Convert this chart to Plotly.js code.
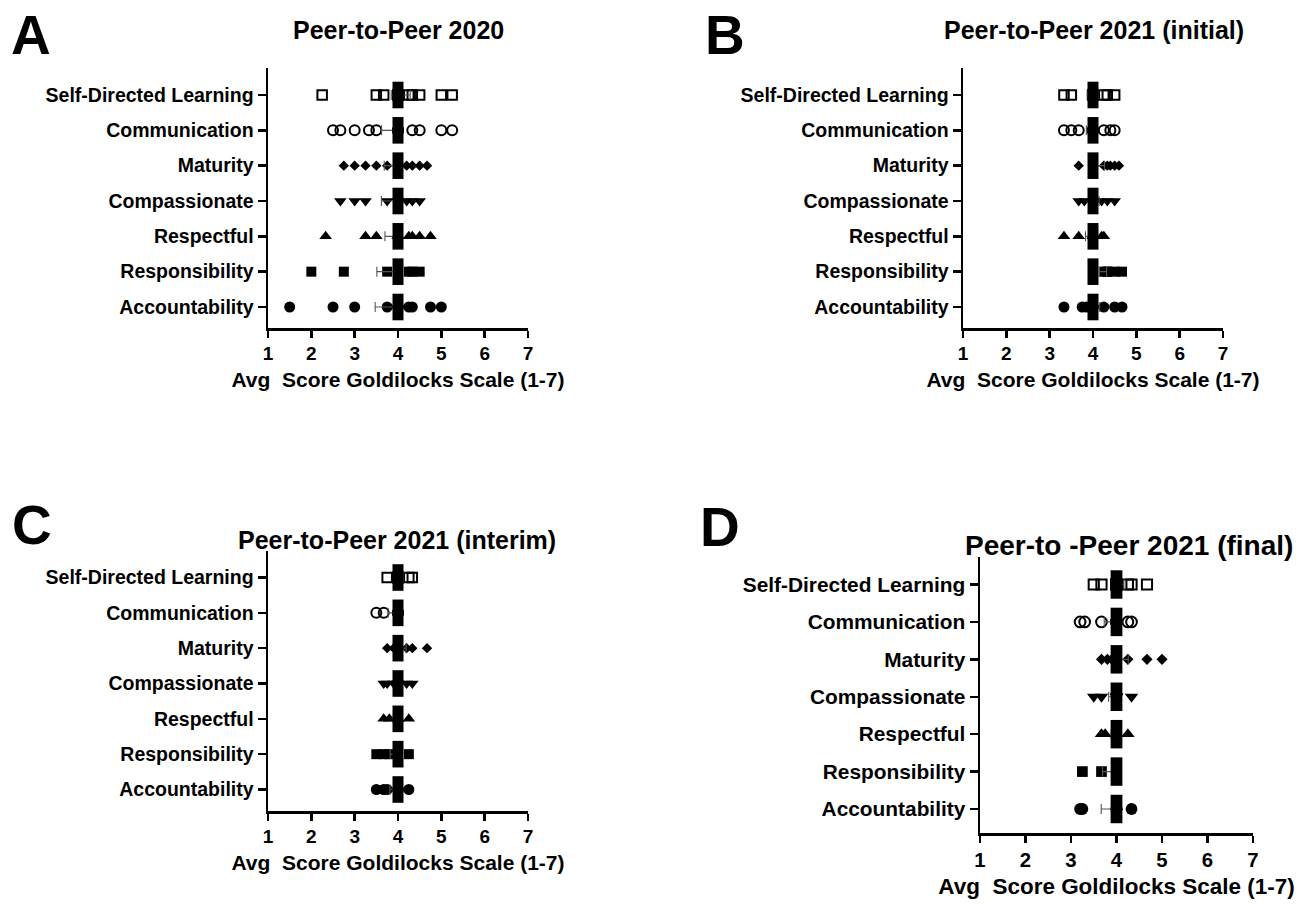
<!DOCTYPE html>
<html>
<head>
<meta charset="utf-8">
<script src="https://cdn.plot.ly/plotly-3.0.1.min.js"></script>
<style>
html,body{margin:0;padding:0;background:#fff;}
#chart{width:1306px;height:904px;}
</style>
</head>
<body>
<div id="chart"></div>
<script>
// ---------------- DATA ----------------
// categories, bottom to top
const categories = ['Accountability','Responsibility','Respectful','Compassionate','Maturity','Communication','Self-Directed Learning'];
const xTickValues = [1,2,3,4,5,6,7];
const panelTitles = ['Peer-to-Peer 2020','Peer-to-Peer 2021 (initial)','Peer-to-Peer 2021 (interim)','Peer-to -Peer 2021 (final)'];
const panelLetters = ['A','B','C','D'];
const xAxisTitle = 'Avg\u00a0 Score Goldilocks Scale (1-7)';

// rows follow the order of `categories`
const scores2020 = [
  [1.5, 2.5, 3.0, 3.75, 4, 4, 4, 4, 4.25, 4.33, 4.75, 5.0],
  [2.0, 2.75, 3.75, 4, 4, 4, 4, 4.25, 4.33, 4.5],
  [2.33, 3.25, 3.5, 4, 4, 4, 4, 4.25, 4.33, 4.5, 4.75],
  [2.67, 3.0, 3.25, 3.75, 4, 4, 4, 4, 4.2, 4.33, 4.5],
  [2.75, 3.0, 3.25, 3.5, 3.75, 4, 4, 4, 4, 4.2, 4.33, 4.5, 4.67],
  [2.5, 2.67, 3.0, 3.33, 3.5, 4, 4, 4, 4, 4.33, 4.5, 5.0, 5.25],
  [2.25, 3.5, 3.67, 4, 4, 4, 4, 4.25, 4.33, 4.5, 5.0, 5.25]
];
const scores2021Initial = [
  [3.33, 3.75, 3.85, 4, 4, 4, 4, 4.25, 4.5, 4.67],
  [4, 4, 4, 4, 4.25, 4.33, 4.33, 4.5, 4.67],
  [3.33, 3.67, 4, 4, 4, 4, 4.2, 4.25],
  [3.67, 3.8, 4, 4, 4, 4, 4.2, 4.33, 4.5],
  [3.67, 4, 4, 4, 4, 4.25, 4.33, 4.4, 4.5, 4.6],
  [3.33, 3.5, 3.67, 4, 4, 4, 4, 4.25, 4.4, 4.5],
  [3.33, 3.5, 4, 4, 4, 4, 4.25, 4.33, 4.5]
];
const scores2021Interim = [
  [3.5, 3.67, 3.75, 4, 4, 4, 4, 4.25],
  [3.5, 3.67, 3.8, 4, 4, 4, 4, 4.25],
  [3.67, 3.8, 4, 4, 4, 4, 4.25],
  [3.67, 3.75, 3.9, 4, 4, 4, 4.2, 4.33],
  [3.75, 3.9, 4, 4, 4, 4, 4.2, 4.33, 4.67],
  [3.5, 3.67, 4, 4, 4, 4],
  [3.75, 4, 4, 4, 4, 4.25, 4.33]
];
const scores2021Final = [
  [3.2, 3.25, 4, 4, 4, 4, 4.33],
  [3.25, 3.67, 4, 4, 4, 4],
  [3.67, 3.75, 4, 4, 4, 4, 4.25],
  [3.5, 3.67, 4, 4, 4, 4, 4.33],
  [3.67, 3.8, 3.9, 4, 4, 4, 4, 4.25, 4.67, 5.0],
  [3.2, 3.3, 3.67, 4, 4, 4, 4, 4.25, 4.33],
  [3.5, 3.67, 4, 4, 4, 4, 4.25, 4.33, 4.67]
];
const median2020 = [4, 4, 4, 4, 4, 4, 4];
const median2021Initial = [4, 4, 4, 4, 4, 4, 4];
const median2021Interim = [4, 4, 4, 4, 4, 4, 4];
const median2021Final = [4, 4, 4, 4, 4, 4, 4];

// ---------------- STYLE / LAYOUT ----------------
const W = 1306, H = 904;
const FONT = 'Liberation Sans, Arial, Helvetica, sans-serif';
const markerStyles = [
  {symbol:'circle', size:11},
  {symbol:'square', size:10},
  {symbol:'triangle-up', size:11},
  {symbol:'triangle-down', size:11},
  {symbol:'diamond', size:8},
  {symbol:'circle-open', size:10, lw:2},
  {symbol:'square-open', size:9.5, lw:2}
];
// pixel geometry of each panel: axis left/right, axis top/bottom, first and last row centre
const geom = [
  {xl:268, xr:528, top:68, bottom:328, rowTop:95, rowBot:307, sc:1, letter:[31,35], title:[398,30], tfs:25},
  {xl:963, xr:1223, top:68, bottom:328, rowTop:95, rowBot:307, sc:1, letter:[725,35], title:[1094,30], tfs:25},
  {xl:268, xr:528, top:551, bottom:811, rowTop:577.5, rowBot:789.5, sc:1, letter:[32,525], title:[397,540], tfs:25},
  {xl:980, xr:1253, top:557, bottom:833, rowTop:584.5, rowBot:809, sc:1.07, letter:[720,527], title:[1129,545], tfs:28}
];
const panelScores = [scores2020, scores2021Initial, scores2021Interim, scores2021Final];
const panelMedians = [median2020, median2021Initial, median2021Interim, median2021Final];

const traces = [];
const layout = {
  width: W, height: H,
  margin: {l:0, r:0, t:0, b:0},
  paper_bgcolor: '#fff', plot_bgcolor: 'rgba(0,0,0,0)',
  showlegend: false,
  font: {family: FONT, color: '#000', weight: 700},
  annotations: []
};

function mean(a){ return a.reduce((s,v)=>s+v,0)/a.length; }
function sem(a){ const m = mean(a); const v = a.reduce((s,x)=>s+(x-m)*(x-m),0)/(a.length-1); return Math.sqrt(v/a.length); }

panelScores.forEach((rows, p) => {
  const g = geom[p];
  const xa = p === 0 ? 'x' : 'x' + (p+1);
  const ya = p === 0 ? 'y' : 'y' + (p+1);
  const xKey = p === 0 ? 'xaxis' : 'xaxis' + (p+1);
  const yKey = p === 0 ? 'yaxis' : 'yaxis' + (p+1);
  const s = (g.rowBot - g.rowTop) / 6;
  const sc = g.sc;

  rows.forEach((vals, i) => {
    const st = markerStyles[i];
    traces.push({
      type: 'scatter', mode: 'markers', xaxis: xa, yaxis: ya,
      x: vals, y: vals.map(() => categories[i]),
      marker: {symbol: st.symbol, size: st.size*sc, color: '#000',
               line: {color: '#000', width: st.lw ? st.lw : 0}},
      hoverinfo: 'x+y'
    });
  });
  // mean +/- SEM whiskers
  traces.push({
    type: 'scatter', mode: 'markers', xaxis: xa, yaxis: ya,
    x: rows.map(mean), y: categories,
    marker: {size: 1, color: 'rgba(0,0,0,0)'},
    error_x: {type: 'data', array: rows.map(sem), color: '#555', thickness: 1.1, width: 5},
    hoverinfo: 'skip'
  });
  // median bar
  traces.push({
    type: 'scatter', mode: 'markers', xaxis: xa, yaxis: ya,
    x: panelMedians[p], y: categories,
    marker: {symbol: 'line-ns', size: 19*sc, color: '#000', line: {color: '#000', width: 11*sc}},
    hoverinfo: 'x+y'
  });

  layout[xKey] = {
    domain: [g.xl/W, g.xr/W], anchor: ya,
    range: [1, 7], tickvals: xTickValues, ticktext: xTickValues.map(String),
    showline: true, linecolor: '#000', linewidth: 2.5,
    ticks: 'outside', ticklen: 7, tickwidth: 2.5, tickcolor: '#000',
    showgrid: false, zeroline: false, fixedrange: true,
    tickfont: {family: FONT, size: 19*sc, color: '#000', weight: 700},
    title: {text: xAxisTitle, font: {family: FONT, size: 21*sc, color: '#000', weight: 700}, standoff: 9}
  };
  layout[yKey] = {
    domain: [1 - g.bottom/H, 1 - g.top/H], anchor: xa,
    type: 'category', categoryorder: 'array', categoryarray: categories,
    range: [-(g.bottom - g.rowBot)/s, 6 + (g.rowTop - g.top)/s],
    showline: true, linecolor: '#000', linewidth: 2.5,
    ticks: 'outside', ticklen: 8, tickwidth: 2.5, tickcolor: '#000',
    showgrid: false, zeroline: false, fixedrange: true,
    tickfont: {family: FONT, size: 19.5*sc, color: '#000', weight: 700}
  };
  layout.annotations.push({
    xref: 'paper', yref: 'paper', x: g.letter[0]/W, y: 1 - g.letter[1]/H,
    xanchor: 'center', yanchor: 'middle', showarrow: false,
    text: panelLetters[p], font: {family: FONT, size: 55, color: '#000', weight: 700}
  });
  layout.annotations.push({
    xref: 'paper', yref: 'paper', x: g.title[0]/W, y: 1 - g.title[1]/H,
    xanchor: 'center', yanchor: 'middle', showarrow: false,
    text: panelTitles[p], font: {family: FONT, size: g.tfs, color: '#000', weight: 700}
  });
});

Plotly.newPlot('chart', traces, layout, {displayModeBar: false, staticPlot: true});
</script>
</body>
</html>
